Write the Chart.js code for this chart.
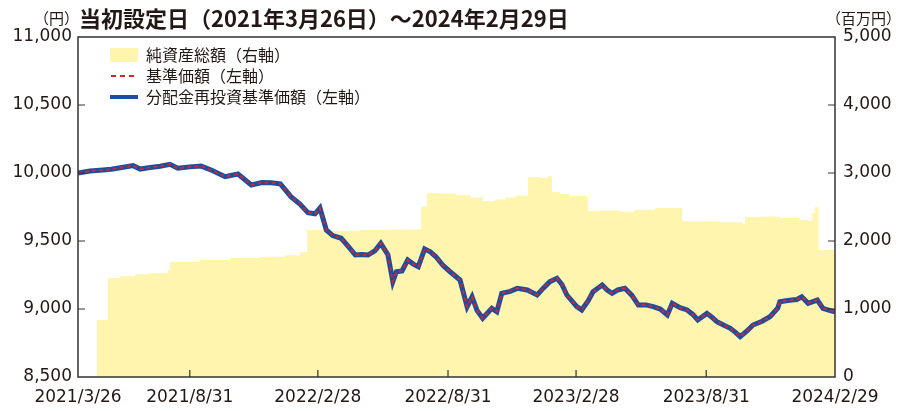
<!DOCTYPE html>
<html lang="ja">
<head>
<meta charset="utf-8">
<script src="https://cdn.jsdelivr.net/npm/chart.js@4.4.1/dist/chart.umd.min.js"></script>
<style>
  html, body { margin: 0; padding: 0; background: #fff; }
  canvas { display: block; }
</style>
</head>
<body>
<canvas id="chart" width="899" height="411"></canvas>
<script>
// days since 2021/3/26 (launch date)
const tickDays = [0, 158, 339, 523, 704, 888, 1070]
const tickLabels = ["2021/3/26", "2021/8/31", "2022/2/28", "2022/8/31", "2023/2/28", "2023/8/31", "2024/2/29"]

// 基準価額 (yen)
const navDays = [
  0, 17, 31, 47, 62, 78, 88, 102, 116, 130, 141, 158, 174, 189, 208, 226, 245, 260, 273, 286,
  301, 314, 325, 335, 342, 351, 360, 372, 382, 392, 401, 410, 420, 428, 438, 445, 450, 458, 466, 474,
  481, 490, 498, 506, 516, 526, 540, 550, 557, 564, 572, 585, 592, 599, 611, 621, 635, 649, 657, 667,
  677, 684, 691, 705, 712, 721, 728, 741, 748, 755, 763, 773, 783, 792, 803, 813, 823, 833, 840, 851,
  861, 869, 876, 889, 896, 903, 913, 922, 929, 936, 946, 954, 967, 978, 989, 992, 1001, 1009, 1016, 1023,
  1032, 1045, 1053, 1062, 1070
]
const navValues = [
  10000, 10015, 10020, 10027, 10040, 10054, 10029, 10040, 10050, 10064, 10035, 10045, 10051, 10020, 9973, 9993, 9912, 9930, 9929, 9920,
  9826, 9770, 9708, 9700, 9743, 9581, 9540, 9520, 9460, 9397, 9400, 9397, 9430, 9483, 9400, 9201, 9274, 9280, 9360, 9330,
  9311, 9441, 9420, 9384, 9320, 9274, 9213, 9017, 9090, 8990, 8932, 9005, 8980, 9115, 9130, 9152, 9140, 9103, 9150, 9201,
  9226, 9180, 9103, 9017, 8993, 9060, 9127, 9176, 9140, 9115, 9140, 9152, 9100, 9029, 9030, 9017, 9000, 8956, 9042, 9010,
  8993, 8960, 8919, 8968, 8940, 8907, 8880, 8858, 8830, 8797, 8840, 8882, 8910, 8943, 9005, 9054, 9060, 9066, 9070, 9090,
  9042, 9066, 9005, 8990, 8980
]
// 分配金再投資基準価額: no distributions paid, so identical to the NAV
const reinvestedValues = navValues

// 純資産総額 (million yen)
const assetDays = [
  27, 42, 59, 81, 102, 127, 130, 172, 215, 257, 293, 314, 324, 356, 399, 441, 485, 493, 512, 534,
  554, 572, 589, 604, 618, 636, 653, 664, 670, 681, 695, 719, 721, 738, 766, 787, 816, 844, 854, 879,
  907, 940, 943, 964, 992, 1020, 1032, 1038, 1042, 1047, 1070
]
const assetValues = [
  840, 1456, 1480, 1510, 1530, 1574, 1690, 1720, 1750, 1770, 1790, 1838, 2162, 2150, 2160, 2170, 2500, 2706, 2700, 2676,
  2640, 2588, 2610, 2640, 2670, 2941, 2930, 2956, 2720, 2690, 2660, 2632, 2441, 2450, 2430, 2460, 2485, 2485, 2294, 2290,
  2275, 2250, 2353, 2360, 2340, 2310, 2294, 2412, 2500, 1868, 1868
]

const yellow = "rgb(255, 245, 175)"
const red = "rgb(206, 38, 52)"
const blue = "rgb(25, 78, 160)"
const ink = "#231815"
const numFont = { family: "'DejaVu Sans', sans-serif", size: 17 }
const jpFont = "'Noto Sans CJK JP', sans-serif"

const toPoints = (xs, ys) => xs.map((x, i) => ({ x: x, y: ys[i] }))

const framePlugin = {
  id: "frame",
  afterDatasetsDraw(chart) {
    const { ctx, chartArea: a, scales } = chart
    ctx.save()
    ctx.strokeStyle = "#333"
    ctx.lineWidth = 1.5
    ctx.strokeRect(a.left, a.top, a.right - a.left, a.bottom - a.top)

    // inward tick marks
    ctx.lineWidth = 1.2
    ctx.beginPath()
    for (let v = 9000; v < 11000; v += 500) {
      const y = scales.y.getPixelForValue(v)
      ctx.moveTo(a.left, y); ctx.lineTo(a.left + 7, y)
    }
    for (let v = 1000; v < 5000; v += 1000) {
      const y = scales.y2.getPixelForValue(v)
      ctx.moveTo(a.right, y); ctx.lineTo(a.right - 7, y)
    }
    tickDays.slice(1, -1).forEach(d => {
      const x = scales.x.getPixelForValue(d)
      ctx.moveTo(x, a.bottom); ctx.lineTo(x, a.bottom - 7)
    })
    ctx.stroke()
    ctx.restore()
  },
  afterDraw(chart) {
    const { ctx } = chart
    ctx.save()
    ctx.fillStyle = ink
    ctx.textBaseline = "middle"

    ctx.font = "bold 22px " + jpFont
    ctx.textAlign = "left"
    ctx.fillText("当初設定日（2021年3月26日）～2024年2月29日", 79, 19)

    ctx.font = "15px " + jpFont
    ctx.textAlign = "right"
    ctx.fillText("（円）", 79, 18)
    ctx.textAlign = "left"
    ctx.fillText("（百万円）", 826, 18)

    // legend
    ctx.fillStyle = yellow
    ctx.fillRect(110, 48, 28, 14)
    ctx.lineWidth = 2
    ctx.strokeStyle = red
    ctx.setLineDash([5, 4])
    ctx.beginPath(); ctx.moveTo(111, 76); ctx.lineTo(138, 76); ctx.stroke()
    ctx.setLineDash([])
    ctx.lineWidth = 4
    ctx.strokeStyle = blue
    ctx.beginPath(); ctx.moveTo(110, 97); ctx.lineTo(138, 97); ctx.stroke()

    ctx.fillStyle = ink
    ctx.font = "16px " + jpFont
    ctx.fillText("純資産総額（右軸）", 146, 55)
    ctx.fillText("基準価額（左軸）", 146, 76)
    ctx.fillText("分配金再投資基準価額（左軸）", 146, 97)
    ctx.restore()
  }
}

new Chart(document.getElementById("chart"), {
  type: "line",
  data: {
    datasets: [
      {
        label: "基準価額（左軸）",
        data: toPoints(navDays, navValues),
        yAxisID: "y",
        borderColor: red,
        borderWidth: 2,
        borderDash: [4, 3],
        pointRadius: 0,
        order: 0
      },
      {
        label: "分配金再投資基準価額（左軸）",
        data: toPoints(navDays, reinvestedValues),
        yAxisID: "y",
        borderColor: blue,
        borderWidth: 5,
        pointRadius: 0,
        order: 1
      },
      {
        label: "純資産総額（右軸）",
        data: toPoints(assetDays, assetValues),
        yAxisID: "y2",
        stepped: true,
        fill: "origin",
        backgroundColor: yellow,
        borderWidth: 0,
        borderColor: yellow,
        pointRadius: 0,
        order: 2
      }
    ]
  },
  options: {
    responsive: false,
    animation: false,
    layout: { padding: { top: 37 } },
    plugins: {
      legend: { display: false },
      tooltip: { enabled: false }
    },
    scales: {
      x: {
        type: "linear",
        min: 0,
        max: 1070,
        grid: { display: false, drawTicks: false },
        border: { display: false },
        afterBuildTicks: scale => { scale.ticks = tickDays.map(v => ({ value: v })) },
        afterFit: scale => { scale.height = 34 },
        ticks: {
          autoSkip: false,
          maxRotation: 0,
          padding: 10,
          color: ink,
          font: numFont,
          callback: v => tickLabels[tickDays.indexOf(v)] || ""
        }
      },
      y: {
        position: "left",
        min: 8500,
        max: 11000,
        grid: { display: false, drawTicks: false },
        border: { display: false },
        afterFit: scale => { scale.width = 78 },
        ticks: {
          stepSize: 500,
          padding: 6,
          color: ink,
          font: numFont,
          callback: v => v.toLocaleString("en-US")
        }
      },
      y2: {
        position: "right",
        min: 0,
        max: 5000,
        grid: { display: false, drawTicks: false },
        border: { display: false },
        afterFit: scale => { scale.width = 64 },
        ticks: {
          stepSize: 1000,
          padding: 8,
          color: ink,
          font: numFont,
          callback: v => v.toLocaleString("en-US")
        }
      }
    }
  },
  plugins: [framePlugin]
})
</script>
</body>
</html>
